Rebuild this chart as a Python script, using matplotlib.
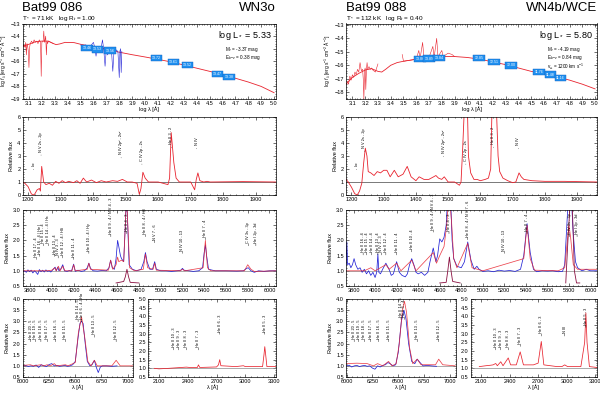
import matplotlib
matplotlib.use("Agg")
import matplotlib.pyplot as plt
from matplotlib.ticker import MultipleLocator

plt.rcParams['font.family'] = ['Liberation Sans', 'DejaVu Sans']
plt.rcParams['mathtext.fontset'] = 'custom'
plt.rcParams['mathtext.rm'] = 'Liberation Sans'
plt.rcParams['mathtext.it'] = 'Liberation Sans:italic'

RED = '#e8232e'
BLUE = '#2323d6'
BOX = '#1f8fef'

# ---------------- data: Bat99 086 (left) ----------------
sed_l_x = [3.05, 3.1, 3.15, 3.2, 3.25, 3.28, 3.31, 3.34, 3.38, 3.45, 3.5, 3.6, 3.7, 3.8,
           3.9, 4.0, 4.1, 4.2, 4.3, 4.4, 4.5, 4.6, 4.7, 4.8, 4.9, 5.0]
sed_l_y = [-14.8, -14.65, -14.45, -14.4, -14.4, -14.55, -14.68, -14.62, -14.5, -14.52, -14.65,
           -14.85, -15.05, -15.28, -15.48, -15.66, -15.85, -16.05, -16.3, -16.55, -16.8,
           -17.05, -17.35, -17.65, -18.0, -18.5]
uv_l_x = [3.05, 3.06, 3.07, 3.075, 3.08, 3.085, 3.09, 3.095, 3.1, 3.105, 3.11, 3.12, 3.13,
          3.14, 3.15, 3.16, 3.17, 3.18, 3.19, 3.195, 3.2, 3.21, 3.215, 3.22, 3.225, 3.23,
          3.235, 3.24, 3.245, 3.25, 3.27, 3.29]
uv_l_y = [-14.9, -14.7, -14.9, -14.5, -15.5, -14.6, -14.8, -15.2, -16.5, -14.9, -14.6, -14.4,
          -14.6, -14.3, -14.5, -14.4, -14.6, -14.3, -14.5, -17.2, -14.5, -14.4, -13.6, -14.5,
          -14.3, -14.0, -15.5, -14.4, -14.6, -14.4, -14.5, -14.6]
opt_l_x = [3.5, 3.52, 3.54, 3.56, 3.58, 3.6, 3.61, 3.62, 3.63, 3.64, 3.66, 3.67, 3.68, 3.69,
           3.7, 3.71, 3.72, 3.73, 3.74, 3.75, 3.76, 3.77, 3.78, 3.79, 3.8, 3.805, 3.81, 3.815, 3.82]
opt_l_y = [-14.7, -14.8, -14.7, -14.85, -14.75, -14.5, -14.9, -15.6, -14.95, -15.0, -14.9, -14.3,
           -15.1, -16.4, -15.0, -15.5, -15.1, -15.0, -15.2, -16.8, -15.1, -15.2, -15.1, -15.3,
           -17.3, -15.2, -15.0, -16.9, -15.2]
phot_l_x = [3.55, 3.63, 3.73, 4.09, 4.22, 4.33, 4.56, 4.65]
phot_l_y = [-14.95, -15.05, -15.15, -15.75, -16.05, -16.3, -17.0, -17.25]
phot_l_txt = ['13.46', '13.53', '13.56', '13.72', '13.61', '13.52', '13.47', '13.38']

uvr_l_x = [1183, 1190, 1200, 1210, 1215, 1220, 1228, 1235, 1238, 1242, 1248, 1255, 1265, 1275,
           1285, 1295, 1305, 1315, 1325, 1340, 1350, 1360, 1370, 1380, 1395, 1410, 1425, 1440,
           1460, 1475, 1490, 1505, 1520, 1535, 1542, 1547, 1553, 1560, 1570, 1600, 1630, 1635,
           1640, 1648, 1655, 1665, 1700, 1712, 1717, 1722, 1728, 1740, 1750, 1760, 1860, 1962]
uvr_l_y = [1.0, 0.9, 0.65, 0.1, 0.0, 0.05, 0.4, 0.5, 0.3, 2.2, 1.0, 0.8, 0.9, 0.75, 1.05, 0.9,
           1.1, 0.95, 1.05, 0.95, 1.1, 0.9, 1.3, 1.0, 1.15, 0.95, 1.1, 1.0, 1.1, 1.05, 1.2, 1.0,
           1.0, 0.9, 0.05, 0.5, 1.75, 1.3, 1.0, 1.0, 0.8, 1.3, 4.8, 2.5, 1.3, 1.0, 1.0, 0.4, 1.2,
           1.7, 1.1, 1.0, 1.05, 1.0, 1.03, 1.0]
uv_lab_l = [(1216, 2.2, 'Lα'), (1240, 3.3, 'N V 2s - 2p'), (1486, 3.1, 'N IV 2p² - 2s²'),
            (1550, 2.6, 'C IV 2p - 2s'), (1640, 3.9, 'He II 3 - 2'), (1718, 3.8, 'N IV')]

obs_l_x = [3735, 3750, 3765, 3780, 3795, 3810, 3825, 3840, 3855, 3870, 3885, 3900, 3915, 3930,
           3945, 3960, 3975, 3990, 4005, 4020, 4030, 4040, 4055, 4065, 4080, 4100, 4115, 4140,
           4160, 4180, 4200, 4215, 4240, 4270, 4300, 4325, 4340, 4355, 4380, 4420, 4460, 4500,
           4525, 4540, 4555, 4575, 4590, 4604, 4615, 4630, 4640, 4660, 4675, 4686, 4697, 4710,
           4740, 4780, 4820, 4845, 4860, 4875, 4900, 4925, 4945, 4960, 5000, 5050, 5100, 5150,
           5185, 5200, 5215, 5260, 5300, 5350, 5385, 5400, 5411, 5422, 5440, 5500, 5600, 5700,
           5760, 5790, 5805, 5830, 5860, 5900, 5950, 6000, 6060]
obs_l_y = [0.98, 1.0, 0.95, 1.03, 0.97, 1.02, 0.93, 1.0, 0.95, 0.88, 1.04, 0.97, 1.02, 0.96,
           1.03, 0.98, 1.0, 0.96, 1.02, 1.08, 1.12, 1.0, 1.12, 1.0, 1.05, 1.2, 1.0, 0.98, 1.01,
           0.99, 1.22, 0.98, 1.02, 0.98, 1.0, 1.1, 1.25, 1.08, 1.0, 0.99, 1.01, 1.0, 1.1, 1.35,
           1.1, 1.05, 1.4, 2.0, 1.8, 1.5, 1.4, 1.3, 2.5, 3.6, 2.5, 1.2, 1.05, 1.0, 1.05, 1.3, 1.6,
           1.3, 1.05, 1.05, 1.3, 1.05, 1.0, 1.0, 0.98, 1.0, 1.02, 1.08, 1.02, 1.0, 0.98, 1.0, 1.1,
           1.6, 1.85, 1.5, 1.05, 1.0, 1.0, 0.99, 1.0, 1.08, 1.1, 1.0, 0.95, 1.0, 0.98, 1.0, 1.0]
mod_l_x = [3730, 3950, 4000, 4026, 4040, 4060, 4075, 4100, 4120, 4185, 4200, 4215, 4325, 4340,
           4355, 4520, 4540, 4560, 4590, 4604, 4615, 4640, 4660, 4675, 4686, 4698, 4715, 4760,
           4840, 4860, 4880, 4930, 4945, 4960, 5180, 5200, 5220, 5390, 5411, 5430, 5460, 5770,
           5800, 5830, 5860, 6060]
mod_l_y = [1.0, 1.0, 1.02, 1.1, 1.0, 1.15, 1.0, 1.15, 1.0, 1.0, 1.2, 1.0, 1.05, 1.25, 1.05,
           1.02, 1.35, 1.05, 1.2, 1.45, 1.3, 1.35, 1.3, 2.5, 3.6, 2.5, 1.1, 1.0, 1.05, 1.55, 1.1,
           1.05, 1.25, 1.02, 1.0, 1.05, 1.0, 1.1, 2.0, 1.1, 1.0, 1.0, 1.2, 1.05, 0.98, 1.0]
ins_l_x = [4590, 4620, 4660, 4675, 4690, 4705, 4720, 4800]
ins_l_y = [0.6, 0.62, 0.65, 0.8, 1.05, 0.8, 0.62, 0.6]
opt_lab_l = [(3858, 1.45, 'He II 17 - 4'), (3889, 1.55, 'He II 16 - 4 / He I'),
             (3923, 1.9, 'He II 15 - 4'), (3968, 1.9, 'He II 14 - 4 / Hε'),
             (4026, 1.55, 'He II 13 - 4'), (4058, 1.5, 'N IV 3 - 3'),
             (4100, 1.5, 'He II 12 - 4 / Hδ'), (4200, 1.45, 'He II 11 - 4'),
             (4340, 1.65, 'He II 10 - 4 / Hγ'), (4542, 2.2, 'He II 9 - 4 / N V 4 - 3'),
             (4686, 2.3, 'He II 4 - 3'), (4860, 2.2, 'He II 8 - 4 / Hβ'),
             (4945, 2.0, 'N V 7 - 6'), (5200, 1.65, 'N IV 10 - 13'),
             (5411, 2.1, 'He II 7 - 4'), (5806, 1.9, 'C IV 3s - 3p'), (5875, 1.9, 'He I 2p - 3d')]

nir_l_obs_x = [6000, 6025, 6050, 6075, 6100, 6125, 6150, 6175, 6200, 6225, 6250, 6275, 6300,
               6325, 6350, 6375, 6400, 6425, 6450, 6475, 6500, 6525, 6545, 6560, 6575, 6595,
               6615, 6640, 6660, 6683, 6700, 6720, 6740, 6760, 6800, 6850, 6900]
nir_l_obs_y = [1.0, 1.02, 0.97, 1.0, 0.98, 1.04, 0.93, 1.05, 1.0, 0.97, 1.06, 1.1, 1.0, 1.02,
               0.98, 1.0, 1.02, 0.98, 1.0, 1.05, 1.2, 2.2, 2.9, 3.0, 2.9, 2.0, 1.2, 1.0, 1.05,
               1.25, 0.95, 0.7, 0.95, 1.0, 1.0, 0.98, 1.0]
nir_l_mod_x = [6000, 6070, 6100, 6170, 6200, 6230, 6260, 6300, 6320, 6406, 6430, 6500, 6530,
               6560, 6590, 6620, 6650, 6683, 6710, 6850, 6891, 6930, 7050]
nir_l_mod_y = [1.02, 1.05, 1.0, 1.05, 1.0, 1.05, 1.0, 1.1, 1.0, 1.05, 1.0, 1.15, 2.5, 3.2, 2.3,
               1.2, 1.0, 1.25, 1.0, 1.0, 1.25, 1.0, 1.0]
nir_lab_l = [(6074, 2.2, 'He II 20 - 5'), (6118, 2.2, 'He II 19 - 5'), (6171, 2.2, 'He II 18 - 5'),
             (6233, 2.2, 'He II 17 - 5'), (6311, 2.2, 'He II 16 - 5'), (6406, 2.2, 'He II 15 - 5'),
             (6527, 3.1, 'He II 14 - 5'), (6560, 3.1, 'He II 6 - 4 / Hα'),
             (6683, 2.4, 'He II 13 - 5'), (6891, 2.2, 'He II 12 - 5')]
mir_l_x = [2050, 2100, 2200, 2253, 2306, 2385, 2420, 2500, 2511, 2525, 2700, 2720, 2733, 2745,
           2900, 2980, 3000, 3180, 3195, 3203, 3212, 3225, 3320]
mir_l_y = [1.0, 0.97, 1.0, 1.02, 1.04, 1.07, 1.05, 1.05, 1.2, 1.05, 1.08, 1.2, 1.5, 1.15, 1.1,
           1.15, 1.1, 1.1, 1.8, 2.25, 1.8, 1.1, 1.1]
mir_lab_l = [(2253, 2.2, 'He II 10 - 3'), (2306, 2.2, 'He II 9 - 3'), (2385, 2.2, 'He II 8 - 3'),
             (2511, 2.2, 'He II 7 - 3'), (2733, 3.1, 'He II 6 - 3'), (3203, 3.1, 'He II 5 - 3')]

# ---------------- data: Bat99 088 (right) ----------------
sed_r_x = [3.05, 3.1, 3.15, 3.2, 3.25, 3.3, 3.33, 3.36, 3.4, 3.45, 3.5, 3.6, 3.7, 3.8, 3.9,
           4.0, 4.1, 4.2, 4.3, 4.4, 4.5, 4.6, 4.7, 4.8, 4.9, 5.0]
sed_r_y = [-17.4, -16.9, -16.6, -16.35, -16.25, -16.45, -16.5, -16.3, -16.0, -15.8, -15.7,
           -15.55, -15.42, -15.35, -15.35, -15.42, -15.55, -15.75, -15.95, -16.2, -16.45,
           -16.65, -16.85, -17.1, -17.4, -17.75]
uv_r_x = [3.06, 3.07, 3.08, 3.09, 3.1, 3.11, 3.12, 3.13, 3.14, 3.15, 3.16, 3.17, 3.18, 3.185,
          3.19, 3.195, 3.2, 3.205, 3.21, 3.215, 3.22, 3.23, 3.24, 3.25, 3.26, 3.28, 3.3]
uv_r_y = [-17.2, -17.4, -16.8, -17.1, -16.7, -16.9, -16.5, -16.7, -16.3, -16.5, -15.8, -16.4,
          -16.3, -17.0, -18.5, -16.4, -16.2, -17.8, -16.3, -15.8, -16.3, -16.1, -16.3, -16.2,
          -16.35, -16.5, -15.9]
em_r_x = [3.49, 3.5, 3.6, 3.62, 3.63, 3.65, 3.66, 3.7, 3.73, 3.74, 3.76, 3.77, 3.8, 3.81, 3.85, 3.88, 3.9]
em_r_y = [-15.2, -15.7, -15.55, -14.9, -15.5, -14.3, -15.45, -15.42, -14.6, -15.4, -14.0, -15.38,
          -14.9, -15.35, -15.1, -15.2, -15.35]
phot_r_x = [3.63, 3.7, 3.78, 4.09, 4.21, 4.34, 4.56, 4.65, 4.73]
phot_r_y = [-15.55, -15.5, -15.45, -15.45, -15.75, -16.0, -16.5, -16.7, -16.95]
phot_r_txt = ['13.86', '13.89', '13.84', '12.85', '12.51', '12.00', '11.76', '11.48', '11.16']

uvr_r_x = [1183, 1190, 1200, 1210, 1218, 1225, 1232, 1238, 1243, 1248, 1252, 1260, 1270, 1280,
           1290, 1300, 1310, 1320, 1333, 1345, 1360, 1373, 1385, 1400, 1410, 1425, 1440, 1455,
           1462, 1470, 1480, 1488, 1500, 1520, 1535, 1540, 1545, 1550, 1560, 1563, 1570, 1580,
           1590, 1600, 1615, 1625, 1632, 1636, 1650, 1655, 1660, 1670, 1685, 1700, 1710, 1720,
           1727, 1735, 1760, 1800, 1860, 1962]
uvr_r_y = [1.2, 1.0, 0.6, 0.1, 0.0, 0.3, 0.9, 2.5, 3.6, 3.0, 1.8, 1.7, 1.5, 1.8, 1.7, 1.9, 1.9,
           1.4, 1.9, 1.4, 1.6, 2.2, 1.4, 1.1, 1.4, 1.2, 1.2, 1.4, 1.5, 1.3, 1.2, 1.4, 1.0, 1.0,
           0.75, 1.0, 3.5, 6.5, 6.5, 3.0, 1.7, 1.2, 1.2, 1.1, 1.2, 1.3, 2.0, 6.5, 6.5, 3.0, 1.8,
           1.3, 1.1, 0.95, 1.0, 1.7, 1.4, 1.2, 1.1, 1.05, 1.05, 1.0]
uv_lab_r = [(1216, 2.2, 'Lα'), (1240, 3.6, 'N V 2s - 2p'), (1486, 3.2, 'N IV 2p² - 2s²'),
            (1555, 2.6, 'C IV 2p - 2s'), (1640, 3.9, 'He II 3 - 2'), (1718, 3.8, 'N IV')]

obs_r_x = [3730, 3738, 3745, 3760, 3775, 3790, 3805, 3820, 3840, 3860, 3880, 3900, 3920, 3940,
           3960, 3980, 4000, 4015, 4026, 4035, 4050, 4070, 4100, 4130, 4150, 4170, 4200, 4225,
           4250, 4280, 4300, 4320, 4340, 4360, 4380, 4400, 4430, 4460, 4490, 4510, 4540, 4565,
           4580, 4600, 4620, 4640, 4660, 4675, 4686, 4700, 4715, 4730, 4760, 4800, 4830, 4860,
           4890, 4920, 4945, 4965, 5000, 5050, 5100, 5150, 5200, 5250, 5300, 5350, 5380, 5411,
           5440, 5470, 5500, 5550, 5600, 5650, 5700, 5740, 5760, 5780, 5795, 5820, 5840, 5860,
           5880, 5920, 5960, 6000, 6060]
obs_r_y = [1.2, 1.95, 1.2, 1.25, 1.1, 1.2, 1.4, 1.2, 1.05, 1.1, 0.95, 1.05, 0.9, 1.0, 0.85, 0.95,
           0.78, 0.95, 1.55, 0.95, 0.9, 1.05, 1.25, 1.05, 0.85, 0.9, 1.3, 0.95, 0.85, 0.8, 0.9,
           1.2, 1.4, 1.2, 0.95, 0.9, 0.95, 0.85, 0.95, 1.3, 1.75, 1.3, 1.5, 2.05, 1.95, 2.1, 2.5,
           3.5, 3.6, 3.5, 2.0, 1.4, 1.15, 1.1, 1.3, 1.95, 1.35, 1.05, 1.15, 1.05, 0.98, 1.0,
           0.97, 1.02, 0.99, 1.01, 0.98, 1.05, 1.5, 2.55, 1.6, 1.05, 0.97, 1.0, 0.99, 1.0, 0.97,
           0.98, 1.2, 2.5, 3.5, 3.5, 2.2, 1.3, 1.1, 1.0, 1.05, 1.0, 1.0]
mod_r_x = [3730, 3800, 3900, 3960, 4000, 4100, 4130, 4200, 4240, 4340, 4380, 4540, 4570, 4600,
           4640, 4665, 4686, 4710, 4730, 4760, 4860, 4900, 5000, 5380, 5411, 5440, 5480, 5700,
           5760, 5785, 5800, 5815, 5840, 5880, 6060]
mod_r_y = [1.0, 1.0, 1.0, 1.1, 1.0, 1.2, 1.05, 1.25, 1.0, 1.35, 1.0, 1.6, 1.25, 1.5, 1.8, 2.5,
           3.6, 2.6, 1.4, 1.1, 1.9, 1.1, 1.0, 1.4, 2.5, 1.4, 1.02, 1.0, 1.1, 2.0, 2.5, 2.1, 1.2,
           1.05, 1.05]
ins_r_x = [4600, 4660, 4675, 4690, 4705, 4720, 4790]
ins_r_y = [0.6, 0.62, 1.0, 1.45, 1.0, 0.65, 0.6]
ins_r2_x = [5770, 5790, 5810, 5830, 5850, 5870, 5900]
ins_r2_y = [0.6, 2.0, 3.2, 3.2, 1.0, 0.6, 0.6]
opt_lab_r = [(3889, 1.6, 'He II 16 - 4'), (3923, 1.6, 'He II 15 - 4'),
             (3968, 1.6, 'He II 14 - 4'), (4026, 1.6, 'He II 13 - 4'),
             (4058, 1.6, 'N IV 3 - 3'), (4100, 1.6, 'He II 12 - 4'),
             (4200, 1.6, 'He II 11 - 4'), (4340, 1.7, 'He II 10 - 4'),
             (4542, 2.35, 'He II 9 - 4 / N V 4 - 3'), (4686, 2.3, 'He II 4 - 3'),
             (4860, 2.1, 'He II 8 - 4 / N V 7 - 6'), (5200, 1.65, 'N IV 10 - 13'),
             (5411, 2.3, 'He II 7 - 4'), (5806, 2.2, 'C IV 3s - 3p'), (5875, 2.2, 'He I 2p - 3d')]

nir_r_obs_x = [6000, 6025, 6050, 6075, 6100, 6125, 6150, 6175, 6200, 6225, 6250, 6275, 6300,
               6325, 6350, 6375, 6400, 6420, 6450, 6475, 6500, 6530, 6555, 6575, 6600, 6630,
               6660, 6683, 6710, 6740, 6780, 6820, 6870]
nir_r_obs_y = [1.0, 1.03, 0.95, 1.0, 1.02, 0.97, 1.0, 1.02, 0.98, 1.0, 0.9, 0.85, 1.0, 0.95,
               1.02, 1.05, 1.15, 1.1, 1.0, 1.05, 1.6, 3.0, 3.5, 3.1, 2.0, 1.2, 1.1, 1.3, 1.15,
               1.0, 1.02, 1.0, 0.98]
nir_r_mod_x = [6000, 6100, 6200, 6260, 6300, 6350, 6406, 6440, 6480, 6510, 6540, 6560, 6580,
               6610, 6640, 6683, 6720, 6860, 6891, 6930, 7050]
nir_r_mod_y = [1.1, 1.12, 1.1, 1.0, 1.1, 1.0, 1.2, 1.0, 1.1, 2.0, 3.5, 3.9, 3.4, 1.8, 1.1, 1.3,
               1.05, 1.05, 1.3, 1.05, 1.0]
nir_lab_r = [(6074, 2.2, 'He II 20 - 5'), (6118, 2.2, 'He II 19 - 5'), (6171, 2.2, 'He II 18 - 5'),
             (6233, 2.2, 'He II 17 - 5'), (6311, 2.2, 'He II 16 - 5'), (6406, 2.2, 'He II 15 - 5'),
             (6527, 3.2, 'He II 14 - 5'), (6560, 3.2, 'He II 6 - 4'),
             (6683, 2.2, 'He II 13 - 5'), (6891, 2.2, 'He II 12 - 5')]
mir_r_x = [2080, 2150, 2200, 2225, 2253, 2270, 2306, 2330, 2385, 2410, 2470, 2511, 2545, 2650,
           2700, 2733, 2760, 2900, 2950, 2980, 3010, 3150, 3190, 3203, 3215, 3240, 3320]
mir_r_y = [1.1, 1.15, 1.18, 1.2, 1.28, 1.15, 1.38, 1.15, 1.6, 1.2, 1.2, 1.95, 1.2, 1.2, 1.3,
           2.55, 1.2, 1.1, 1.1, 1.2, 1.1, 1.1, 2.5, 4.2, 2.5, 1.1, 1.05]
mir_lab_r = [(2253, 2.2, 'He II 10 - 3'), (2306, 2.2, 'He II 9 - 3'), (2385, 2.2, 'He II 8 - 3'),
             (2511, 2.4, 'He II 7 - 3'), (2733, 3.0, 'He II 6 - 3'), (2980, 3.0, 'N III'),
             (3203, 3.5, 'He II 5 - 3')]

# ---------------- layout ----------------
W, H = 600, 394
fig = plt.figure(figsize=(6.0, 3.94), dpi=100)


def px_ax(x0, y0, x1, y1):
    return fig.add_axes([x0 / W, 1 - y1 / H, (x1 - x0) / W, (y1 - y0) / H])


def style(ax, xmaj, xmin, ymaj, ymin):
    ax.xaxis.set_major_locator(MultipleLocator(xmaj))
    ax.xaxis.set_minor_locator(MultipleLocator(xmin))
    ax.yaxis.set_major_locator(MultipleLocator(ymaj))
    ax.yaxis.set_minor_locator(MultipleLocator(ymin))
    ax.tick_params(which='both', direction='in', top=True, right=True, labelsize=4, pad=1.5,
                   width=0.4)
    ax.tick_params(which='major', length=2)
    ax.tick_params(which='minor', length=1)
    for s in ax.spines.values():
        s.set_linewidth(0.5)


def add_labels(ax, labs, dy):
    for x, y, s in labs:
        ax.annotate('', xy=(x, y - dy), xytext=(x, y),
                    arrowprops=dict(arrowstyle='-', lw=0.3, color='black'))
        ax.text(x, y + dy * 0.1, s, rotation=90, fontsize=2.8, ha='center', va='bottom')


def column(xl, xr, name, sptype, params, sedx, sedy, uvx, uvy, emx, emy, blue_sed,
           px, py, ptxt, lum, info, sed_ylim,
           uvrx, uvry, uvlab, obsx, obsy, modx, mody, insets, optlab,
           nobx, noby, nmx, nmy, nlab, mx, my, mlab):
    fig.text(xl / W, 1 - 11 / H, name, fontsize=9.5, ha='left', va='baseline')
    fig.text(xr / W, 1 - 11 / H, sptype, fontsize=9.5, ha='right', va='baseline')
    fig.text(xl / W, 1 - 20.3 / H, params, fontsize=4.6, ha='left', va='baseline')

    # SED
    ax = px_ax(xl, 23.5, xr, 99)
    ax.plot(sedx, sedy, color=RED, lw=0.6)
    ax.plot(uvx, uvy, color=RED, lw=0.4)
    ax.plot(emx, emy, color=BLUE if blue_sed else RED, lw=0.4)
    for x, y, t in zip(px, py, ptxt):
        ax.text(x, y, t, fontsize=2.6, color='white', ha='center', va='center',
                bbox=dict(boxstyle='square,pad=0.35', fc=BOX, ec='#1060c0', lw=0.3))
    ax.set_xlim(3.05, 5.015)
    ax.set_ylim(*sed_ylim)
    style(ax, 0.1, 0.02, 1, 0.2)
    ax.set_xticks([3.1, 3.2, 3.3, 3.4, 3.5, 3.6, 3.7, 3.8, 3.9, 4.0, 4.1, 4.2, 4.3, 4.4, 4.5,
                   4.6, 4.7, 4.8, 4.9, 5.0])
    ax.set_xlabel('log λ [Å]', fontsize=4, labelpad=0.5)
    ax.set_ylabel('log $f_\\lambda$ [erg s$^{-1}$ cm$^{-2}$ Å$^{-1}$]', fontsize=3.5, labelpad=1)
    ax.text(0.985, 0.93, lum, transform=ax.transAxes, fontsize=6.5, ha='right', va='top')
    for i, s in enumerate(info):
        ax.text(0.8, 0.72 - i * 0.11, s, transform=ax.transAxes, fontsize=3.3, ha='left',
                va='top')

    # UV
    ax = px_ax(xl, 117, xr, 195)
    ax.axhline(1.0, color='#444444', lw=0.5)
    ax.plot(uvrx, uvry, color=RED, lw=0.6)
    ax.set_xlim(1183, 1962)
    ax.set_ylim(0, 6)
    style(ax, 100, 20, 1, 0.2)
    ax.set_ylabel('Relative flux', fontsize=4, labelpad=2)
    add_labels(ax, uvlab, 0.25)

    # optical
    ax = px_ax(xl, 210, xr, 286)
    ax.axhline(1.0, color='#888888', lw=0.5)
    ax.plot(obsx, obsy, color=BLUE, lw=0.55)
    ax.plot(modx, mody, color=RED, lw=0.55, alpha=0.85)
    for ix, iy in insets:
        ax.plot(ix, iy, color='#8a1040', lw=0.6)
    ax.set_xlim(3730, 6060)
    ax.set_ylim(0.5, 3.0)
    style(ax, 200, 40, 0.5, 0.1)
    ax.set_ylabel('Relative flux', fontsize=4, labelpad=2)
    add_labels(ax, optlab, 0.08)

    # bottom left
    split = xl + (xr - xl) * 0.437
    ax = px_ax(xl, 299, split, 377)
    ax.axhline(1.0, color='#888888', lw=0.5)
    ax.plot(nobx, noby, color=BLUE, lw=0.55)
    ax.plot(nmx, nmy, color=RED, lw=0.55, alpha=0.85)
    ax.set_xlim(5995, 7055)
    ax.set_ylim(0.5, 4.0)
    style(ax, 250, 50, 0.5, 0.1)
    ax.set_ylabel('Relative flux', fontsize=4, labelpad=2)
    ax.set_xlabel('λ [Å]', fontsize=4, labelpad=0.5)
    add_labels(ax, nlab, 0.12)

    # bottom right
    ax = px_ax(split + (xr - xl) * 0.06, 299, xr, 377)
    ax.axhline(1.0, color='#888888', lw=0.5)
    ax.plot(mx, my, color=RED, lw=0.55)
    ax.set_xlim(1990, 3320)
    ax.set_ylim(0.5, 5.0)
    style(ax, 300, 60, 0.5, 0.1)
    ax.set_xlabel('λ [Å]', fontsize=4, labelpad=0.5)
    add_labels(ax, mlab, 0.14)


column(22.5, 276, 'Bat99 086', 'WN3o', 'T$_*$ = 71 kK   log R$_t$ = 1.00',
       sed_l_x, sed_l_y, uv_l_x, uv_l_y, opt_l_x, opt_l_y, True,
       phot_l_x, phot_l_y, phot_l_txt, 'log L$_*$ = 5.33',
       ['M$_v$ = -3.37 mag', 'E$_{b-v}$ = 0.38 mag'], (-19, -13),
       uvr_l_x, uvr_l_y, uv_lab_l, obs_l_x, obs_l_y, mod_l_x, mod_l_y,
       [(ins_l_x, ins_l_y)], opt_lab_l,
       nir_l_obs_x, nir_l_obs_y, nir_l_mod_x, nir_l_mod_y, nir_lab_l,
       mir_l_x, mir_l_y, mir_lab_l)

column(346, 597, 'Bat99 088', 'WN4b/WCE', 'T$_*$ = 112 kK   log R$_t$ = 0.40',
       sed_r_x, sed_r_y, uv_r_x, uv_r_y, em_r_x, em_r_y, False,
       phot_r_x, phot_r_y, phot_r_txt, 'log L$_*$ = 5.80',
       ['M$_v$ = -4.19 mag', 'E$_{b-v}$ = 0.84 mag', 'v$_\\infty$ = 1200 km s$^{-1}$'],
       (-18.5, -12.9),
       uvr_r_x, uvr_r_y, uv_lab_r, obs_r_x, obs_r_y, mod_r_x, mod_r_y,
       [(ins_r_x, ins_r_y), (ins_r2_x, ins_r2_y)], opt_lab_r,
       nir_r_obs_x, nir_r_obs_y, nir_r_mod_x, nir_r_mod_y, nir_lab_r,
       mir_r_x, mir_r_y, mir_lab_r)

fig.savefig('out.png', dpi=100)
